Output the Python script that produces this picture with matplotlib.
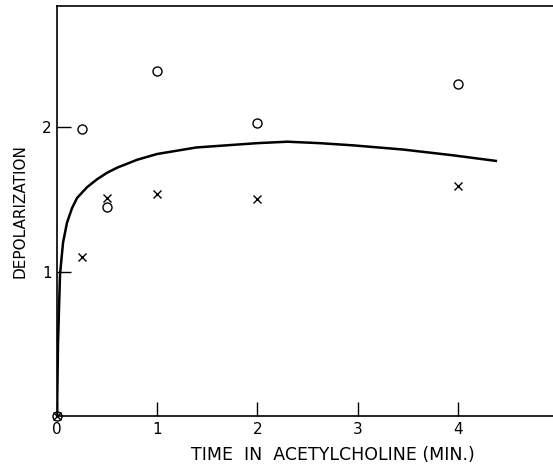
import matplotlib.pyplot as plt

# data
t_circle = [0, 0.25, 0.5, 1, 2, 4]
d_circle = [0, 1.99, 1.45, 2.39, 2.03, 2.30]
t_cross = [0, 0.25, 0.5, 1, 2, 4]
d_cross = [0, 1.10, 1.51, 1.54, 1.50, 1.59]

t_curve = [0, 0.01, 0.03, 0.06, 0.1, 0.15, 0.2, 0.3, 0.4, 0.5, 0.6, 0.8, 1.0,
           1.39, 2.0, 2.3, 2.62, 2.95, 3.45, 3.95, 4.38]
d_curve = [0, 0.5, 0.98, 1.2, 1.34, 1.44, 1.51, 1.585, 1.64, 1.685, 1.72,
           1.775, 1.815, 1.86, 1.89, 1.90, 1.89, 1.875, 1.846, 1.806, 1.767]

xticks = [0, 1, 2, 3, 4]
yticks = [1, 2]

plt.rcParams['font.family'] = ['DejaVu Sans']
fig = plt.figure(figsize=(5.53, 4.70), dpi=100)
ax = fig.add_axes([57 / 553, 54 / 470, 1 - 57 / 553, 410 / 470])

ax.plot(t_curve, d_curve, color='black', lw=1.8)
ax.plot(t_circle, d_circle, 'o', mfc='none', mec='black', ms=6.5, mew=1,
        clip_on=False)
ax.plot(t_cross, d_cross, 'x', color='black', ms=5.5, mew=1, clip_on=False)

ax.set_xlim(0, 4.95)
ax.set_ylim(0, 2.84)
ax.spines['right'].set_visible(False)
for s in ax.spines.values():
    s.set_linewidth(1.2)

ax.set_xticks(xticks)
ax.set_xticklabels([str(v) for v in xticks], fontsize=11)
ax.set_yticks(yticks)
ax.set_yticklabels([str(v) for v in yticks], fontsize=11)
ax.tick_params(direction='in', length=10, width=1, pad=4)

ax.set_xlabel('TIME  IN  ACETYLCHOLINE (MIN.)', fontsize=12.5)
ax.xaxis.set_label_coords(0.557, -0.072)
ax.set_ylabel('DEPOLARIZATION', fontsize=11, labelpad=10)

fig.savefig('out.png', dpi=100)
